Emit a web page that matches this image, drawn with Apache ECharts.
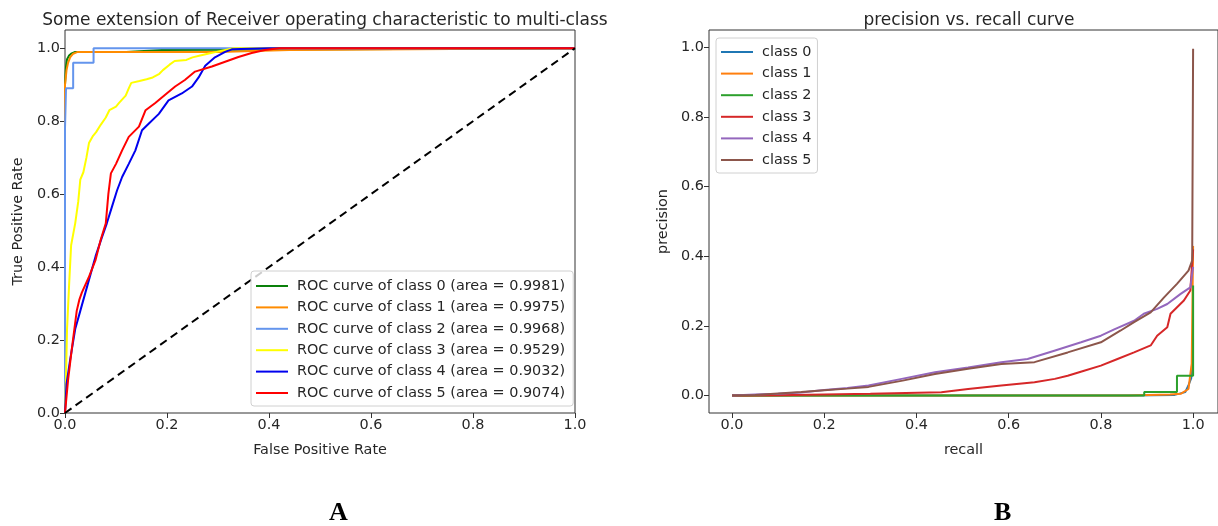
<!DOCTYPE html>
<html>
<head>
<meta charset="utf-8">
<script src="https://cdn.jsdelivr.net/npm/echarts@6/dist/echarts.min.js"></script>
<style>
  html, body { margin: 0; padding: 0; background: #fff; }
  #chart { width: 1218px; height: 526px; }
</style>
</head>
<body>
<div id="chart"></div>
<script>
// tick labels shared by both panels
const tickValues = [0, 0.2, 0.4, 0.6, 0.8, 1.0]

// ROC curves, [false positive rate, true positive rate]
const rocNames = [
  'ROC curve of class 0 (area = 0.9981)',
  'ROC curve of class 1 (area = 0.9975)',
  'ROC curve of class 2 (area = 0.9968)',
  'ROC curve of class 3 (area = 0.9529)',
  'ROC curve of class 4 (area = 0.9032)',
  'ROC curve of class 5 (area = 0.9074)'
]
const rocColors = ['#0a800a', '#ff8c00', '#6495ed', '#ffff00', '#0000ee', '#ff0000']
const roc0 = [[0, 0], [0, 0.9], [0.002, 0.95], [0.004, 0.97], [0.008, 0.98], [0.012, 0.985], [0.02, 0.99], [0.12, 0.99], [0.12, 0.995], [0.19, 0.995], [0.19, 1], [1, 1]]
const roc1 = [[0, 0], [0, 0.9], [0.003, 0.94], [0.006, 0.96], [0.01, 0.975], [0.016, 0.985], [0.025, 0.99], [0.3, 0.99], [0.3, 0.995], [0.44, 0.995], [0.44, 1], [1, 1]]
const roc2 = [[0, 0], [0, 0.78], [0.002, 0.78], [0.002, 0.89], [0.016, 0.89], [0.016, 0.96], [0.056, 0.96], [0.056, 1], [1, 1]]
const roc3 = [[0, 0], [0.002, 0.1], [0.004, 0.23], [0.008, 0.35], [0.012, 0.46], [0.02, 0.52], [0.026, 0.58], [0.03, 0.64], [0.036, 0.66], [0.042, 0.7], [0.047, 0.74], [0.055, 0.76], [0.061, 0.77], [0.07, 0.79], [0.08, 0.81], [0.087, 0.83], [0.1, 0.84], [0.106, 0.85], [0.119, 0.87], [0.125, 0.89], [0.13, 0.905], [0.146, 0.91], [0.16, 0.915], [0.172, 0.92], [0.185, 0.93], [0.192, 0.94], [0.205, 0.955], [0.215, 0.965], [0.238, 0.968], [0.25, 0.975], [0.265, 0.98], [0.28, 0.985], [0.297, 0.99], [0.33, 1], [1, 1]]
const roc4 = [[0, 0], [0.003, 0.08], [0.01, 0.145], [0.02, 0.23], [0.03, 0.28], [0.04, 0.33], [0.05, 0.38], [0.06, 0.43], [0.072, 0.48], [0.082, 0.52], [0.092, 0.565], [0.102, 0.61], [0.112, 0.647], [0.125, 0.683], [0.138, 0.72], [0.151, 0.775], [0.164, 0.793], [0.184, 0.82], [0.203, 0.857], [0.229, 0.876], [0.249, 0.895], [0.262, 0.92], [0.275, 0.952], [0.294, 0.975], [0.314, 0.99], [0.327, 0.997], [0.4, 1], [1, 1]]
const roc5 = [[0, 0], [0.006, 0.09], [0.013, 0.172], [0.023, 0.28], [0.028, 0.31], [0.033, 0.33], [0.046, 0.37], [0.06, 0.42], [0.07, 0.475], [0.08, 0.52], [0.085, 0.6], [0.09, 0.657], [0.1, 0.683], [0.112, 0.72], [0.125, 0.757], [0.145, 0.785], [0.158, 0.83], [0.177, 0.85], [0.197, 0.873], [0.216, 0.895], [0.235, 0.913], [0.255, 0.936], [0.288, 0.95], [0.314, 0.963], [0.34, 0.976], [0.366, 0.987], [0.392, 0.995], [0.42, 1], [1, 1]]
const chanceLine = [[0, 0], [1, 1]]

// precision vs recall, [recall, precision]
const prNames = ['class 0', 'class 1', 'class 2', 'class 3', 'class 4', 'class 5']
const prColors = ['#1f77b4', '#ff7f0e', '#2ca02c', '#d62728', '#9467bd', '#8c564b']
const pr0 = [[0, 0], [0.86, 0], [0.96, 0.002], [0.983, 0.01], [0.99, 0.03], [0.996, 0.05], [0.999, 0.12], [1, 0.13]]
const pr1 = [[0, 0], [0.86, 0], [0.95, 0.003], [0.973, 0.005], [0.99, 0.019], [0.997, 0.092], [1, 0.43]]
const pr2 = [[0, 0], [0.894, 0], [0.894, 0.01], [0.965, 0.01], [0.965, 0.057], [1, 0.057], [1, 0.316]]
const pr3 = [[0, 0], [0.1, 0.001], [0.2, 0.003], [0.3, 0.005], [0.454, 0.0095], [0.512, 0.019], [0.584, 0.029], [0.656, 0.038], [0.7, 0.048], [0.728, 0.057], [0.76, 0.07], [0.8, 0.086], [0.836, 0.105], [0.872, 0.124], [0.908, 0.144], [0.922, 0.172], [0.944, 0.196], [0.951, 0.235], [0.98, 0.273], [0.994, 0.302], [1, 0.42]]
const pr4 = [[0, 0], [0.05, 0.003], [0.1, 0.005], [0.15, 0.009], [0.2, 0.016], [0.25, 0.022], [0.296, 0.029], [0.368, 0.048], [0.44, 0.067], [0.512, 0.081], [0.584, 0.096], [0.641, 0.105], [0.699, 0.129], [0.757, 0.153], [0.8, 0.172], [0.829, 0.19], [0.872, 0.215], [0.893, 0.235], [0.922, 0.249], [0.944, 0.263], [0.973, 0.292], [0.994, 0.311], [1, 0.37]]
const pr5 = [[0, 0], [0.05, 0.002], [0.1, 0.006], [0.15, 0.01], [0.2, 0.015], [0.25, 0.02], [0.296, 0.025], [0.37, 0.043], [0.44, 0.062], [0.512, 0.077], [0.584, 0.091], [0.656, 0.096], [0.728, 0.124], [0.8, 0.153], [0.843, 0.187], [0.872, 0.211], [0.908, 0.239], [0.937, 0.282], [0.965, 0.321], [0.99, 0.359], [0.998, 0.388], [1, 0.996]]

const rocData = [roc0, roc1, roc2, roc3, roc4, roc5]
const prData = [pr0, pr1, pr2, pr3, pr4, pr5]

const font = 'DejaVu Sans'
const fontSize = 14.4
const textColor = '#262626'

const valueAxis = (gridIndex, min, max, name, nameGap) => ({
  type: 'value',
  gridIndex,
  min,
  max,
  name,
  nameLocation: 'middle',
  nameGap,
  nameTextStyle: { fontFamily: font, fontSize, color: textColor },
  axisLine: { show: false, onZero: false },
  axisTick: { show: true, length: 5, customValues: tickValues, lineStyle: { color: '#333' } },
  axisLabel: {
    margin: 5,
    customValues: tickValues,
    fontFamily: font,
    fontSize,
    color: textColor,
    formatter: v => v.toFixed(1)
  },
  splitLine: { show: false }
})

const lineSeries = (name, data, color, xAxisIndex, width) => ({
  name,
  type: 'line',
  xAxisIndex,
  yAxisIndex: xAxisIndex,
  data,
  symbol: 'none',
  showSymbol: false,
  animation: false,
  lineStyle: { color, width },
  itemStyle: { color }
})

const series = []
rocData.forEach((d, i) => series.push(lineSeries(rocNames[i], d, rocColors[i], 0, 2)))
series.push({
  type: 'line',
  xAxisIndex: 0,
  yAxisIndex: 0,
  data: chanceLine,
  symbol: 'none',
  animation: false,
  lineStyle: { color: '#000', width: 2, type: [8, 5] }
})
prData.forEach((d, i) => series.push(lineSeries(prNames[i], d, prColors[i], 1, 2)))

const legendBase = {
  orient: 'vertical',
  itemWidth: 32,
  itemHeight: 16,
  itemStyle: { opacity: 0 },
  backgroundColor: 'rgba(255,255,255,0.8)',
  borderColor: '#d0d0d0',
  borderWidth: 1,
  borderRadius: 3,
  textStyle: { fontFamily: font, fontSize, color: textColor, padding: [0, 0, 0, 4] },
  selectedMode: false
}

const chart = echarts.init(document.getElementById('chart'))
chart.setOption({
  backgroundColor: '#fff',
  animation: false,
  title: [
    {
      text: 'Some extension of Receiver operating characteristic to multi-class',
      left: 320,
      top: 7,
      textAlign: 'center',
      textStyle: { fontFamily: font, fontSize: 17, fontWeight: 'normal', color: textColor }
    },
    {
      text: 'precision vs. recall curve',
      left: 964,
      top: 7,
      textAlign: 'center',
      textStyle: { fontFamily: font, fontSize: 17, fontWeight: 'normal', color: textColor }
    }
  ],
  grid: [
    { left: 65, top: 30, width: 510, height: 383, show: true, borderColor: '#333', borderWidth: 1, backgroundColor: 'transparent' },
    { left: 709, top: 30, width: 511, height: 383, show: true, borderColor: '#333', borderWidth: 1, backgroundColor: 'transparent' }
  ],
  xAxis: [
    valueAxis(0, 0, 1, 'False Positive Rate', 30),
    valueAxis(1, -0.05, 1.054, 'recall', 30)
  ],
  yAxis: [
    valueAxis(0, 0, 1.05, 'True Positive Rate', 40),
    valueAxis(1, -0.05, 1.05, 'precision', 39)
  ],
  legend: [
    Object.assign({}, legendBase, { left: 251, top: 271, padding: [8, 8, 6, 4], itemGap: 7.4, data: rocNames }),
    Object.assign({}, legendBase, { left: 716, top: 38, padding: [7, 6, 6, 4], itemGap: 7.6, data: prNames })
  ],
  graphic: [
    { type: 'text', left: 329, top: 500, style: { text: 'A', font: 'bold 26px "Liberation Serif"', fill: '#000' } },
    { type: 'text', left: 994, top: 500, style: { text: 'B', font: 'bold 26px "Liberation Serif"', fill: '#000' } }
  ],
  series
})
</script>
</body>
</html>
